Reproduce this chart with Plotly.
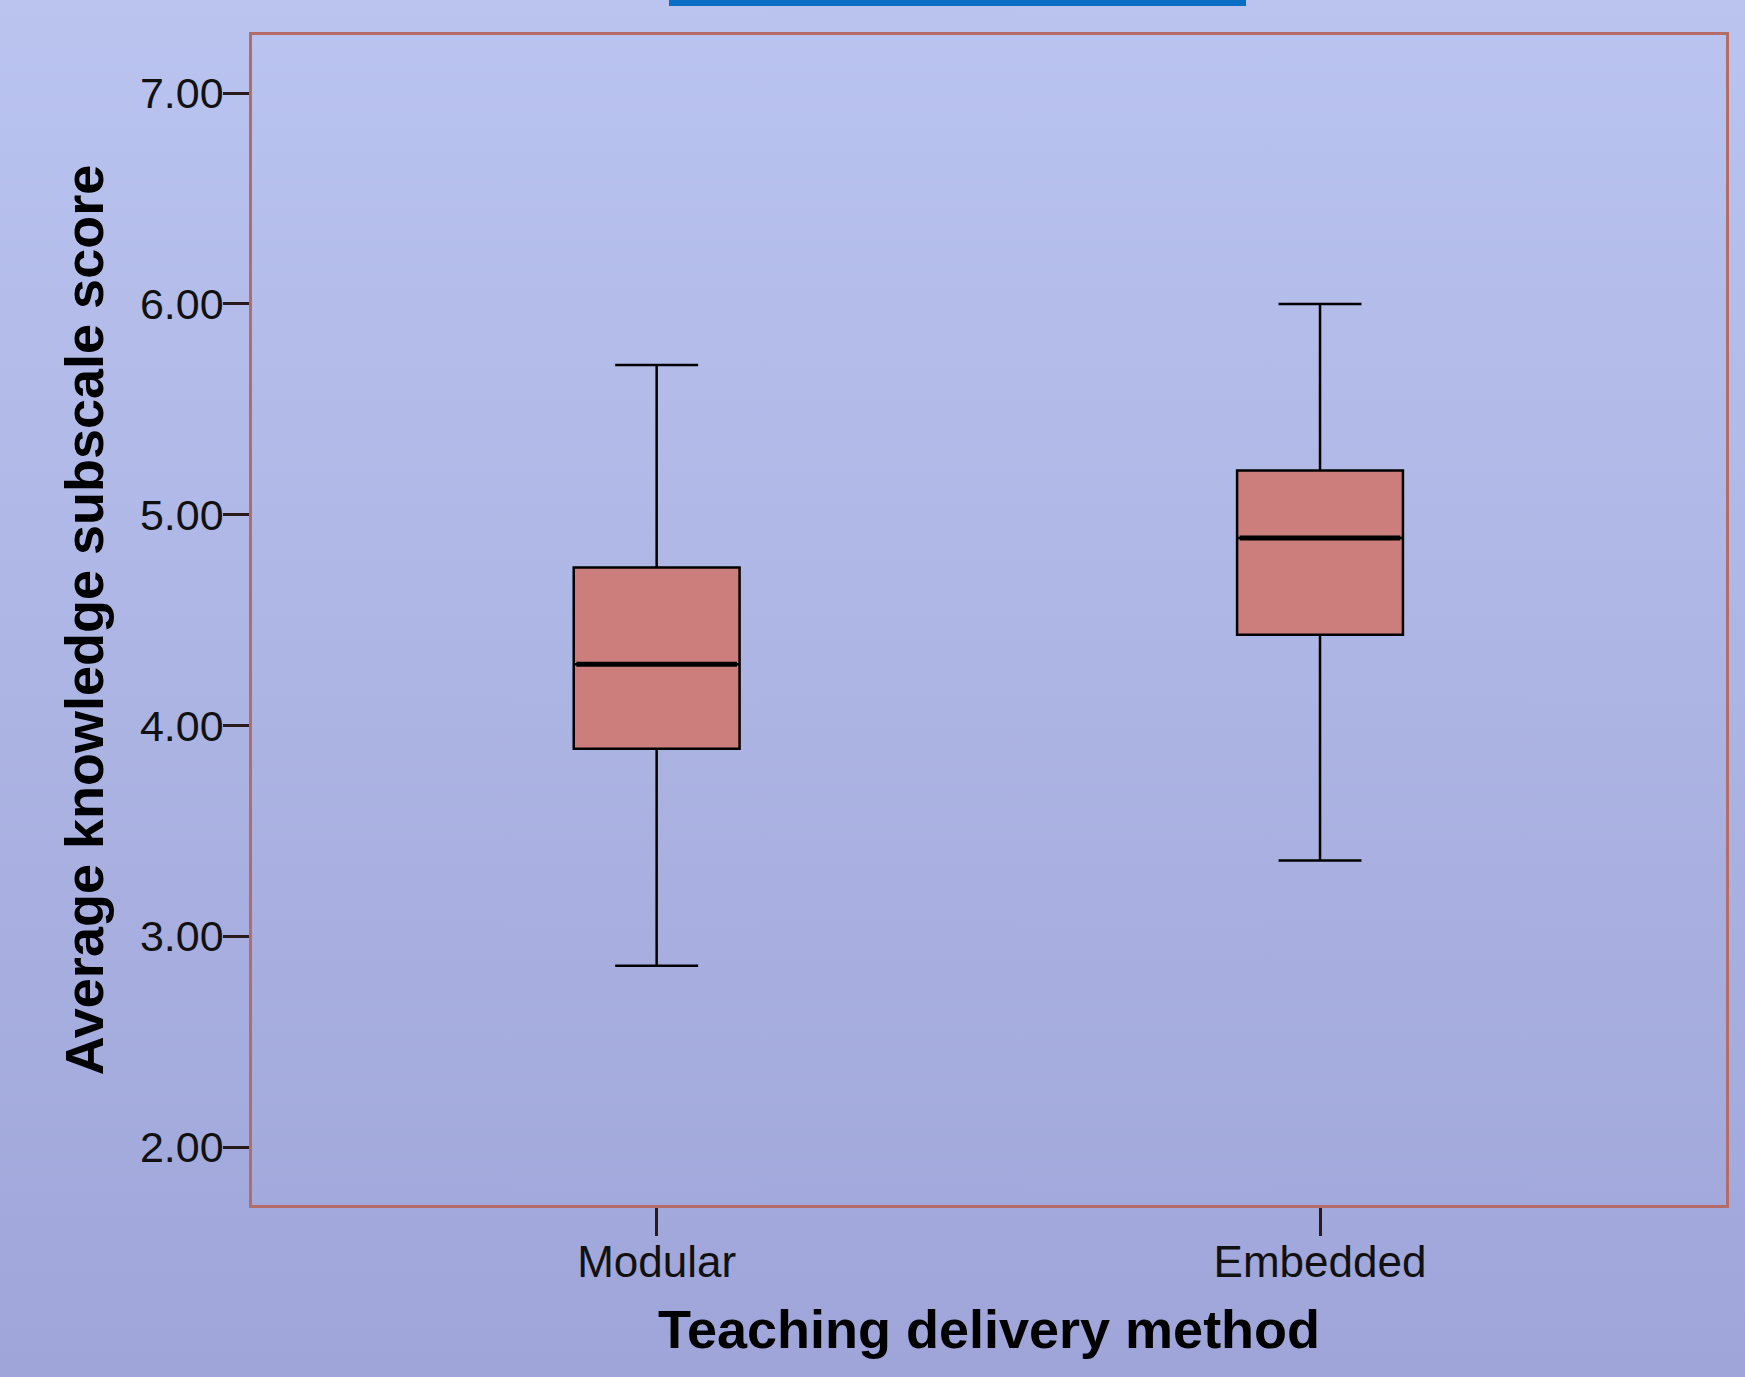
import base64
import plotly.graph_objects as go

# ---- data ----
categories = ["Modular", "Embedded"]
positions = [0, 1]
lower_whisker = [2.86, 3.36]
q1_values = [3.89, 4.43]
medians = [4.29, 4.89]
q3_values = [4.75, 5.21]
upper_whisker = [5.71, 6.00]
y_tickvals = [2, 3, 4, 5, 6, 7]
y_ticktext = ["2.00", "3.00", "4.00", "5.00", "6.00", "7.00"]

W, H = 1745, 1377
ML, MR, MT, MB = 252, 19, 35, 172
PW, PH = W - ML - MR, H - MT - MB

BOX_W = 0.25
BOX_FILL = "#CB7E7C"
FRAME = "#B56B66"
TICKC = "#2b1a1a"
FONT = "Liberation Sans, Arial, sans-serif"

fig = go.Figure()
fig.add_trace(go.Box(
    x=positions, q1=q1_values, median=medians, q3=q3_values,
    lowerfence=lower_whisker, upperfence=upper_whisker,
    width=BOX_W, whiskerwidth=0.5,
    fillcolor=BOX_FILL, line=dict(color="black", width=2.5),
    boxpoints=False, showlegend=False, hoverinfo="skip",
))
# thicker median lines
for p, m in zip(positions, medians):
    fig.add_trace(go.Scatter(
        x=[p - BOX_W / 2 + 0.004, p + BOX_W / 2 - 0.004], y=[m, m],
        mode="lines", line=dict(color="black", width=5),
        showlegend=False, hoverinfo="skip",
    ))

# gradient background via svg
svg = (
    f'<svg xmlns="http://www.w3.org/2000/svg" width="{W}" height="{H}" preserveAspectRatio="none">'
    '<defs><linearGradient id="g" x1="0" y1="0" x2="0" y2="1">'
    '<stop offset="0" stop-color="#BAC4EF"/><stop offset="1" stop-color="#9FA5D9"/>'
    '</linearGradient></defs>'
    f'<rect width="{W}" height="{H}" fill="url(#g)"/></svg>'
)
src = "data:image/svg+xml;base64," + base64.b64encode(svg.encode()).decode()
fig.add_layout_image(dict(
    source=src, xref="paper", yref="paper",
    x=-ML / PW, y=1 + MT / PH, sizex=W / PW, sizey=H / PH,
    xanchor="left", yanchor="top", sizing="stretch", layer="below",
))

# blue decorative line at top
fig.add_shape(type="rect", xref="paper", yref="paper",
              x0=(669 - ML) / PW, x1=(1246 - ML) / PW,
              y0=1 + (MT - 6) / PH, y1=1 + (MT + 2) / PH,
              fillcolor="#0A6FC4", line=dict(width=0), layer="above")

fig.update_layout(
    width=W, height=H,
    margin=dict(l=ML, r=MR, t=MT, b=MB),
    paper_bgcolor="#ADB4E3",
    plot_bgcolor="rgba(0,0,0,0)",
    xaxis=dict(
        range=[-0.61, 1.612], tickvals=positions, ticktext=categories,
        showgrid=False, zeroline=False,
        showline=True, mirror=True, linecolor=FRAME, linewidth=2.5,
        ticks="outside", ticklen=28, tickwidth=2.5, tickcolor=TICKC,
        ticklabelstandoff=-12,
        tickfont=dict(family=FONT, size=44, color="#111"),
        title=dict(text="<b>Teaching delivery method</b>",
                   font=dict(family=FONT, size=54, color="black"), standoff=26),
    ),
    yaxis=dict(
        range=[1.725, 7.276], tickvals=y_tickvals, ticktext=y_ticktext,
        showgrid=False, zeroline=False,
        showline=True, mirror=True, linecolor=FRAME, linewidth=2.5,
        ticks="outside", ticklen=26, tickwidth=2.5, tickcolor=TICKC,
        ticklabelstandoff=-9,
        tickfont=dict(family=FONT, size=43, color="#111"),
        title=dict(text="<b>Average knowledge subscale score</b>",
                   font=dict(family=FONT, size=54, color="black"), standoff=20),
    ),
)

fig.write_html("out.html", config={"displayModeBar": False},
               post_script="document.body.style.margin='0';")
